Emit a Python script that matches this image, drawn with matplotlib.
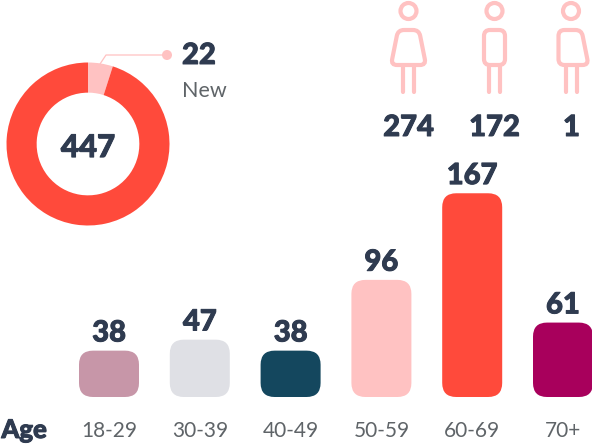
#!/usr/bin/env python3
# Patients: new share donut, gender icons, age bars
import matplotlib
matplotlib.use('Agg')
import matplotlib.pyplot as plt
import matplotlib.patheffects as pe
from matplotlib.patches import Circle, FancyBboxPatch, PathPatch
from matplotlib.path import Path

W, H = 592, 447
DARK = '#2f3b50'
GREY = '#5f6468'
PINK = '#ffc2c2'
RED = '#ff4a3b'
HEAVY = 900
# Lato stops short of the reference weight, so fatten the numbers a little
FAT = [pe.withStroke(linewidth=0.7, foreground=DARK)]

plt.rcParams['font.family'] = ['Lato', 'DejaVu Sans']

total = 447
new_count = 22
new_label = 'New'

gender_counts = [274, 172, 1]
gender_shapes = ['f', 'm', 'x']

age_labels = ['18-29', '30-39', '40-49', '50-59', '60-69', '70+']
age_counts = [38, 47, 38, 96, 167, 61]
age_colors = ['#c796a8', '#dfe0e5', '#14475e', PINK, RED, '#a8005c']


def axes_px(fig, x0, y0, x1, y1):
  # y0 is the top edge, all in reference pixels
  return fig.add_axes([x0 / W, 1 - y1 / H, (x1 - x0) / W, (y1 - y0) / H])


def rounded(pts, r):
  # closed polygon with rounded corners
  verts, codes = [], []
  n = len(pts)
  for i in range(n):
    px, py = pts[i - 1]
    cx, cy = pts[i]
    nx, ny = pts[(i + 1) % n]
    d1 = ((cx - px) ** 2 + (cy - py) ** 2) ** 0.5
    d2 = ((nx - cx) ** 2 + (ny - cy) ** 2) ** 0.5
    a = (cx - (cx - px) * r / d1, cy - (cy - py) * r / d1)
    b = (cx + (nx - cx) * r / d2, cy + (ny - cy) * r / d2)
    verts += [a, (cx, cy), b]
    codes += [Path.MOVETO if i == 0 else Path.LINETO, Path.CURVE3, Path.CURVE3]
  verts.append(verts[0])
  codes.append(Path.CLOSEPOLY)
  return Path(verts, codes)


def person(ax, cx, kind):
  lw = 3.0
  ax.add_patch(Circle((cx, 11), 8, fc='none', ec=PINK, lw=lw))
  left_top, left_bot = -10.5, -17.5
  right_top, right_bot = 10.5, 17.5
  if kind == 'm':
    left_bot, right_bot = -10.5, 10.5
  if kind == 'x':
    left_bot = -12.5
    left_top = -12.5
  pts = [(cx + left_top, 30), (cx + right_top, 30), (cx + right_bot, 65), (cx + left_bot, 65)]
  ax.add_patch(PathPatch(rounded(pts, 6), fc='none', ec=PINK, lw=lw))
  for dx in (-5.5, 5.5):
    ax.plot([cx + dx, cx + dx], [65, 92], color=PINK, lw=lw, solid_capstyle='round')


fig = plt.figure(figsize=(W / 100, H / 100), dpi=100)

# overlay in pixels for icons, leader line and free texts
over = axes_px(fig, 0, 0, W, H)
over.set_xlim(0, W)
over.set_ylim(H, 0)
over.axis('off')

# donut
pie_ax = axes_px(fig, 6.5, 62.5, 169.5, 225.5)
pie_ax.pie([new_count, total - new_count], colors=[PINK, RED], startangle=90,
           counterclock=False, radius=1, wedgeprops={'width': 0.37},
           )
pie_ax.set_xlim(-1, 1)
pie_ax.set_ylim(-1, 1)
pie_ax.text(0, -0.05, str(total), ha='center', va='center', fontsize=22.5,
            fontweight=HEAVY, color=DARK, path_effects=FAT)

over.plot([100, 106, 163], [64, 55, 55], color=PINK, lw=0.9)
over.add_patch(Circle((167, 55), 5, fc=PINK, ec='none'))
over.text(182, 56, str(new_count), ha='left', va='center', fontsize=21,
          fontweight=HEAVY, color=DARK, path_effects=FAT)
over.text(182, 91, new_label, ha='left', va='center', fontsize=15.5, color=GREY)

# gender icons
for cx, kind, count in zip([408.5, 494.5, 571], gender_shapes, gender_counts):
  person(over, cx, kind)
for cx, count in zip([408.5, 494.5, 571.5], gender_counts):
  over.text(cx, 128, str(count), ha='center', va='center', fontsize=21,
            fontweight=HEAVY, color=DARK, path_effects=FAT)

# age bars: one category step = 90.8 px, one patient = 1.22 px
bar_ax = axes_px(fig, 0, 150, W, 397)
step = 90.8
bar_ax.set_xlim(-109 / step, (W - 109) / step)
bar_ax.set_ylim(0, 247 / 1.22)
bar_ax.patch.set_alpha(0)
for s in bar_ax.spines.values():
  s.set_visible(False)
bars = bar_ax.bar(range(len(age_counts)), age_counts, width=60 / step, color=age_colors)
aspect = (1 / 1.22) / (1 / step)
for rect, c, v in zip(bars, age_colors, age_counts):
  rect.set_visible(False)
  pad = 14 / step
  bar_ax.add_patch(FancyBboxPatch(
    (rect.get_x() + pad, rect.get_y() + pad * aspect),
    rect.get_width() - 2 * pad, rect.get_height() - 2 * pad * aspect,
    boxstyle=f'round,pad={pad},rounding_size={pad}',
    mutation_aspect=aspect, fc=c, ec='none', clip_on=False))
  bar_ax.annotate(str(v), (rect.get_x() + rect.get_width() / 2, v), xytext=(0, 3),
                  textcoords='offset points', ha='center', va='bottom', fontsize=21,
                  fontweight=HEAVY, color=DARK, path_effects=FAT)
bar_ax.set_yticks([])
bar_ax.set_xticks(range(len(age_labels)))
bar_ax.set_xticklabels(age_labels, fontsize=15, color=GREY)
bar_ax.tick_params(axis='x', length=0, pad=17)

over.text(47, 430, 'Age', ha='right', va='center', fontsize=18.5, fontweight=HEAVY,
          color=DARK, path_effects=FAT)

fig.savefig('out.png', dpi=100)
